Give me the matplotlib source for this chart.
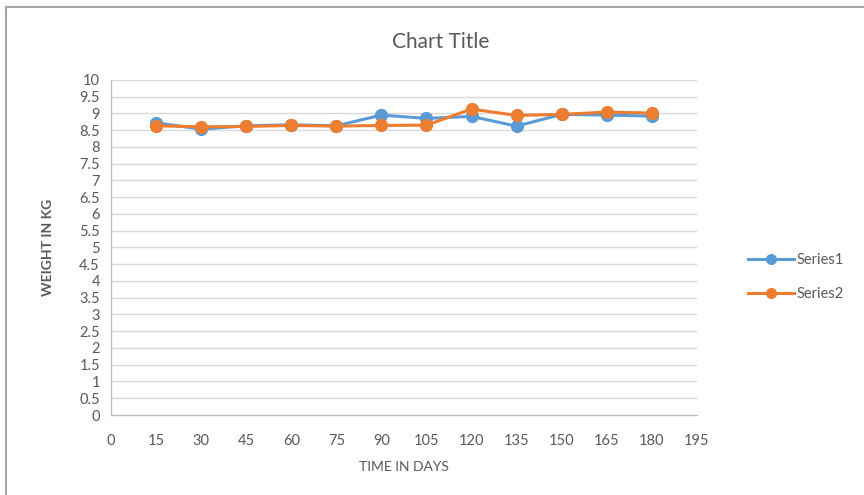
import matplotlib.pyplot as plt
from matplotlib.lines import Line2D

plt.rcParams['font.family'] = ['Lato', 'DejaVu Sans']

days = [15, 30, 45, 60, 75, 90, 105, 120, 135, 150, 165, 180]
series1 = [8.72, 8.53, 8.63, 8.66, 8.63, 8.95, 8.85, 8.91, 8.62, 8.97, 8.95, 8.92]
series2 = [8.63, 8.60, 8.61, 8.64, 8.62, 8.64, 8.65, 9.13, 8.94, 8.97, 9.04, 9.01]
x_ticks = list(range(0, 196, 15))
y_ticks = [i * 0.5 for i in range(21)]

blue = '#5B9BD5'
orange = '#ED7D31'
text_col = '#595959'

fig = plt.figure(figsize=(8.64, 4.95), dpi=100)
ax = fig.add_axes([0.1285, 0.1616, 0.678, 0.677])

ax.plot(days, series1, color=blue, lw=2.2, marker='o', ms=8.5, label='Series1', zorder=3)
ax.plot(days, series2, color=orange, lw=2.2, marker='o', ms=8.5, label='Series2', zorder=4)

ax.set_xlim(0, 195)
ax.set_ylim(0, 10)
ax.set_xticks(x_ticks)
ax.set_xticklabels([str(t) for t in x_ticks])
ax.set_yticks(y_ticks)
ax.set_yticklabels([f'{t:g}' for t in y_ticks])
ax.grid(axis='y', color='#D9D9D9', lw=1)
ax.set_axisbelow(True)
ax.tick_params(length=0, labelsize=10.5, colors=text_col, pad=8)
ax.tick_params(axis='x', pad=14)
for side in ['top', 'right']:
    ax.spines[side].set_visible(False)
for side in ['left', 'bottom']:
    ax.spines[side].set_color('#BFBFBF')
    ax.spines[side].set_linewidth(1)

ax.set_xlabel('TIME IN DAYS', fontsize=10, color=text_col, labelpad=9)
ax.set_ylabel('WEIGHT IN KG', fontsize=10, color=text_col, labelpad=18, fontweight='bold')
fig.text(0.51, 0.915, 'Chart Title', ha='center', va='center', fontsize=15, color=text_col)

handles = [Line2D([], [], color=blue, lw=2.2, marker='o', ms=7),
           Line2D([], [], color=orange, lw=2.2, marker='o', ms=7)]
fig.legend(handles, ['Series1', 'Series2'], loc='center left',
           bbox_to_anchor=(0.85, 0.44), frameon=False, fontsize=10.5,
           labelcolor=text_col, handlelength=3.2, handletextpad=0.15,
           labelspacing=1.4)

# outer chart frame (left and top edges)
fig.add_artist(Line2D([0.007, 0.007], [0, 0.986], color='#A6A6A6', lw=1.5))
fig.add_artist(Line2D([0.007, 1.0], [0.986, 0.986], color='#A6A6A6', lw=1.5))

fig.savefig('out.png', dpi=100)
